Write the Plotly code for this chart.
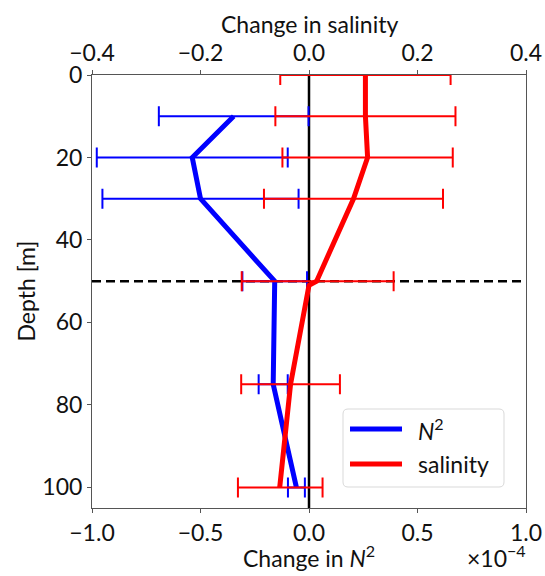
import plotly.graph_objects as go

# Depth levels (m)
n2_depth = [10, 20, 30, 50, 75, 100]
sal_depth = [0, 10, 20, 30, 50, 51, 75, 100]
sal_err_depth = [0, 10, 20, 30, 50, 75, 100]

# Change in N^2, in units of 1e-4 s^-2, with error half-widths
n2_change = [-0.347, -0.538, -0.50, -0.158, -0.165, -0.058]
n2_err = [0.345, 0.44, 0.452, 0.149, 0.067, 0.039]

# Change in salinity profile and its error half-widths
sal_change = [0.104, 0.104, 0.108, 0.082, 0.014, 0.0, -0.034, -0.054]
sal_err_center = [0.104, 0.104, 0.108, 0.082, 0.016, -0.034, -0.053]
sal_err = [0.157, 0.166, 0.157, 0.165, 0.14, 0.091, 0.078]

n2_ticks = [-1.0, -0.5, 0.0, 0.5, 1.0]
sal_ticks = [-0.4, -0.2, 0.0, 0.2, 0.4]
depth_ticks = [0, 20, 40, 60, 80, 100]


def fmt(v):
    s = f"{abs(v):.1f}"
    return ("\u2212" + s) if v < 0 else s


FONT = "Lato"
BLUE = "#0000ff"
RED = "#ff0000"
TXT = dict(family=FONT, size=23, color="#111")

fig = go.Figure()

# N^2 profile with horizontal error bars
fig.add_trace(go.Scatter(
    x=n2_change, y=n2_depth, mode="lines",
    line=dict(color=BLUE, width=5),
    error_x=dict(type="data", array=n2_err, color=BLUE, thickness=2, width=10),
    name="N2", showlegend=False, xaxis="x", yaxis="y",
))

# Salinity profile line
fig.add_trace(go.Scatter(
    x=sal_change, y=sal_depth, mode="lines",
    line=dict(color=RED, width=5),
    showlegend=False, xaxis="x2", yaxis="y",
))

# Salinity error bars
fig.add_trace(go.Scatter(
    x=sal_err_center, y=sal_err_depth, mode="markers",
    marker=dict(size=1, color=RED, opacity=0),
    error_x=dict(type="data", array=sal_err, color=RED, thickness=2, width=10),
    showlegend=False, xaxis="x2", yaxis="y",
))

axis_common = dict(
    showline=True, linecolor="#555", linewidth=1,
    ticks="outside", ticklen=4, tickwidth=1, tickcolor="#555",
    showgrid=False, zeroline=False, automargin=False,
    tickfont=TXT,
)

W, H = 545, 576
ML, MR, MT, MB = 92, 19, 75, 68
pw, ph = W - ML - MR, H - MT - MB

fig.update_layout(
    width=W, height=H,
    margin=dict(l=ML, r=MR, t=MT, b=MB, autoexpand=False),
    paper_bgcolor="white", plot_bgcolor="white",
    font=TXT,
    xaxis=dict(
        range=[-1.0, 1.0], tickvals=n2_ticks,
        ticktext=[fmt(v) for v in n2_ticks],
        **axis_common,
    ),
    xaxis2=dict(
        range=[-0.4, 0.4], overlaying="x", side="top", anchor="y",
        tickvals=sal_ticks, ticktext=[fmt(v) for v in sal_ticks],
        **axis_common,
    ),
    yaxis=dict(
        range=[105, 0], tickvals=depth_ticks,
        ticktext=[str(v) for v in depth_ticks],
        mirror=True,
        **axis_common,
    ),
    showlegend=False,
)


def px(x):
    return (x - ML) / pw


def py(y):
    return (H - MB - y) / ph


# Axis titles
fig.add_annotation(xref="paper", yref="paper", x=0.5, y=py(556),
                   xanchor="center", yanchor="middle", showarrow=False,
                   text="Change in <i>N</i><sup>2</sup>", font=TXT)
fig.add_annotation(xref="paper", yref="paper", x=0.5, y=py(24),
                   xanchor="center", yanchor="middle", showarrow=False,
                   text="Change in salinity", font=TXT)
fig.add_annotation(xref="paper", yref="paper", x=px(25), y=0.5,
                   xanchor="center", yanchor="middle", showarrow=False,
                   textangle=-90, text="Depth [m]", font=TXT)

# Zero line and the 50 m reference depth
fig.add_shape(type="line", xref="x", yref="paper", x0=0, x1=0, y0=0, y1=1,
              line=dict(color="black", width=2.5), layer="below")
fig.add_shape(type="line", xref="paper", yref="y", x0=0, x1=1, y0=50, y1=50,
              line=dict(color="black", width=2.5, dash="9px,5px"), layer="below")

# Offset label for the N^2 axis
fig.add_annotation(xref="paper", yref="paper", x=px(528), y=py(556),
                   xanchor="right", yanchor="middle", showarrow=False,
                   text="\u00d710<sup>\u22124</sup>", font=TXT)

# Legend box with rounded corners
lx0, lx1, ly0, ly1, rr = 343, 504, 409, 487, 5
box_path = (
    f"M {lx0 + rr},{ly0} L {lx1 - rr},{ly0} Q {lx1},{ly0} {lx1},{ly0 + rr} "
    f"L {lx1},{ly1 - rr} Q {lx1},{ly1} {lx1 - rr},{ly1} "
    f"L {lx0 + rr},{ly1} Q {lx0},{ly1} {lx0},{ly1 - rr} "
    f"L {lx0},{ly0 + rr} Q {lx0},{ly0} {lx0 + rr},{ly0} Z"
)
fig.add_shape(type="path", xref="x domain", yref="y domain",
              path=" ".join(
                  tok if "," not in tok else
                  f"{px(float(tok.split(',')[0]))},{py(float(tok.split(',')[1]))}"
                  for tok in box_path.split(" ")),
              line=dict(color="#d9d9d9", width=1), fillcolor="rgba(255,255,255,0.85)")

legend_items = [("<i>N</i><sup>2</sup>", BLUE, 429), ("salinity", RED, 464)]
for label, color, yy in legend_items:
    fig.add_shape(type="line", xref="paper", yref="paper",
                  x0=px(350), x1=px(402), y0=py(yy), y1=py(yy),
                  line=dict(color=color, width=5))
    fig.add_annotation(xref="paper", yref="paper", x=px(416), y=py(yy),
                       xanchor="left", yanchor="middle", showarrow=False,
                       text=label, font=TXT)

fig.write_html("out.html")
